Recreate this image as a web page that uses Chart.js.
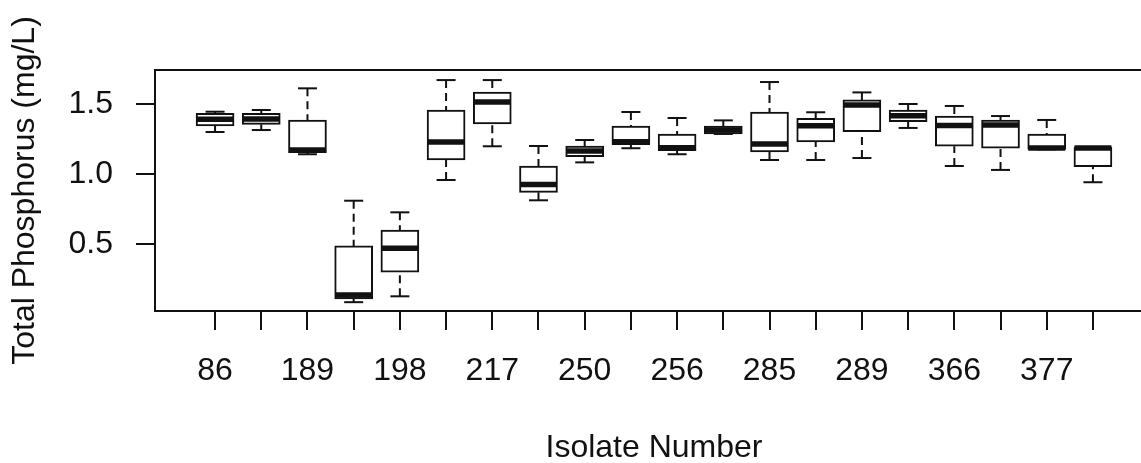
<!DOCTYPE html>
<html>
<head>
<meta charset="utf-8">
<script src="https://cdn.jsdelivr.net/npm/chart.js@4/dist/chart.umd.min.js"></script>
<style>
  html, body { margin: 0; padding: 0; background: #fff; overflow: hidden; }
  canvas { display: block; }
</style>
</head>
<body>
<canvas id="chart" width="1180" height="463"></canvas>
<script>
// 株番号（偶数位置のラベルは元図で省略されている）
const isolates = ['86', '', '189', '', '198', '', '217', '', '250', '', '256', '', '285', '', '289', '', '366', '', '377', ''];

// 箱ひげ図の統計量 (mg/L)
const whiskerLow  = [1.300, 1.314, 1.141, 0.084, 0.126, 0.957, 1.198, 0.812, 1.083, 1.184, 1.141, 1.286, 1.100, 1.100, 1.114, 1.329, 1.057, 1.029, 1.176, 0.941];
const q1          = [1.343, 1.355, 1.152, 0.107, 0.298, 1.100, 1.357, 0.869, 1.124, 1.210, 1.167, 1.286, 1.157, 1.229, 1.302, 1.374, 1.198, 1.184, 1.176, 1.052];
const median      = [1.391, 1.393, 1.171, 0.136, 0.469, 1.229, 1.514, 0.924, 1.164, 1.231, 1.188, 1.314, 1.214, 1.345, 1.493, 1.416, 1.346, 1.350, 1.186, 1.185];
const q3          = [1.434, 1.433, 1.386, 0.486, 0.600, 1.457, 1.586, 1.057, 1.200, 1.343, 1.286, 1.343, 1.443, 1.398, 1.529, 1.457, 1.414, 1.386, 1.286, 1.190];
const whiskerHigh = [1.445, 1.457, 1.612, 0.809, 0.726, 1.671, 1.671, 1.200, 1.243, 1.443, 1.400, 1.383, 1.657, 1.441, 1.583, 1.500, 1.486, 1.414, 1.386, 1.190];

// 目盛り
const yTicks = [0.5, 1.0, 1.5];

const ink = '#111';

Chart.defaults.font.family = '"Liberation Sans", Arial, sans-serif';
Chart.defaults.font.size = 32;
Chart.defaults.color = ink;

// 箱の枠
const boxData = q1.map((v, i) => ({ x: i + 1, y: [v, q3[i]] }));

// 中央値
const medianData = median.map((v, i) => ({ x: i + 1, y: v }));

// ひげの端
const capData = [];
whiskerLow.forEach((v, i) => {
  capData.push({ x: i + 1, y: v });
  capData.push({ x: i + 1, y: whiskerHigh[i] });
});

// ひげ（点線）: 端から箱へ、nullで区切る
const whiskerData = [];
q1.forEach((v, i) => {
  whiskerData.push({ x: i + 1, y: whiskerHigh[i] });
  whiskerData.push({ x: i + 1, y: q3[i] });
  whiskerData.push({ x: i + 1, y: null });
  whiskerData.push({ x: i + 1, y: whiskerLow[i] });
  whiskerData.push({ x: i + 1, y: v });
  whiskerData.push({ x: i + 1, y: null });
});

// プロット領域の枠線
const framePlugin = {
  id: 'frame',
  afterDatasetsDraw(chart) {
    const { ctx, chartArea } = chart;
    ctx.save();
    ctx.strokeStyle = ink;
    ctx.lineWidth = 2;
    ctx.strokeRect(chartArea.left, chartArea.top, chartArea.right - chartArea.left, chartArea.bottom - chartArea.top);
    ctx.restore();
  }
};

const ctx = document.getElementById('chart').getContext('2d');
const chart = new Chart(ctx, {
  type: 'bar',
  data: {
    datasets: [
      {
        type: 'line',
        data: medianData,
        showLine: false,
        pointStyle: 'line',
        pointRadius: 18.5,
        pointBorderWidth: 5.5,
        pointBorderColor: ink,
        order: 0
      },
      {
        type: 'line',
        data: capData,
        showLine: false,
        pointStyle: 'line',
        pointRadius: 9.5,
        pointBorderWidth: 2,
        pointBorderColor: ink,
        order: 1
      },
      {
        type: 'line',
        data: whiskerData,
        borderColor: ink,
        borderWidth: 2,
        borderDash: [8, 5],
        pointRadius: 0,
        spanGaps: false,
        order: 2
      },
      {
        type: 'bar',
        data: boxData,
        backgroundColor: '#fff',
        borderColor: ink,
        borderWidth: 2,
        borderSkipped: false,
        barThickness: 38,
        order: 3
      }
    ]
  },
  options: {
    responsive: false,
    animation: false,
    events: [],
    layout: {
      autoPadding: false,
      padding: { top: 70, right: 27, left: 0, bottom: 0 }
    },
    plugins: {
      legend: { display: false },
      tooltip: { enabled: false }
    },
    scales: {
      x: {
        type: 'linear',
        min: -0.3,
        max: 21.3,
        offset: false,
        afterBuildTicks: (scale) => {
          scale.ticks = isolates.map((_, i) => ({ value: i + 1 }));
        },
        afterFit: (scale) => { scale.height = 152; },
        border: { display: false },
        grid: {
          offset: false,
          drawOnChartArea: false,
          drawTicks: true,
          tickLength: 19,
          color: ink,
          lineWidth: 2
        },
        ticks: {
          autoSkip: false,
          maxRotation: 0,
          padding: 22,
          callback: (value) => isolates[value - 1]
        },
        title: {
          display: true,
          text: 'Isolate Number',
          font: { size: 32, lineHeight: 0.8 },
          padding: { top: 0, bottom: 2 }
        }
      },
      y: {
        min: 0.021,
        max: 1.743,
        afterBuildTicks: (scale) => {
          scale.ticks = yTicks.map(v => ({ value: v }));
        },
        afterFit: (scale) => { scale.width = 155; },
        border: { display: false },
        grid: {
          drawOnChartArea: false,
          drawTicks: true,
          tickLength: 19,
          color: ink,
          lineWidth: 2
        },
        ticks: {
          padding: 23,
          callback: (value) => value.toFixed(1)
        },
        title: {
          display: true,
          text: 'Total Phosphorus (mg/L)',
          font: { size: 32 },
          padding: { top: 6, bottom: 0 }
        }
      }
    }
  },
  plugins: [framePlugin]
});
</script>
</body>
</html>
